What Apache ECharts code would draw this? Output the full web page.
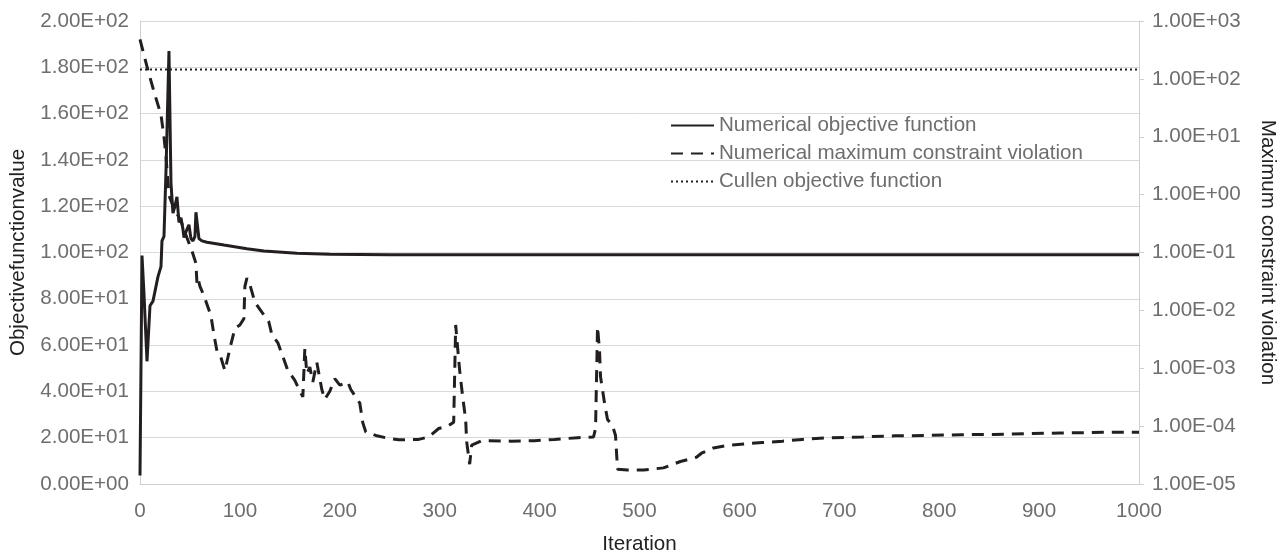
<!DOCTYPE html>
<html>
<head>
<meta charset="utf-8">
<script src="https://cdn.jsdelivr.net/npm/echarts@6/dist/echarts.min.js"></script>
<style>
  html, body { margin: 0; padding: 0; background: #fff; }
  #chart { width: 1286px; height: 560px; }
</style>
</head>
<body>
<div id="chart"></div>
<script>
// objective function (left axis)
var objIter = [0, 2, 4, 7, 10, 13, 18, 21, 22, 24, 26, 29, 31, 33, 35, 37, 39, 41, 43, 44, 47, 49, 51, 53, 55, 56, 59, 62, 67, 84, 107, 124, 157, 190, 250, 400, 600, 800, 1000];
var objVal = [3.7, 98.7, 82, 53, 77, 79, 89.6, 93.9, 105, 107, 135, 187, 130, 117, 120, 124, 113, 115, 110, 106.5, 110, 112, 106, 105, 107, 117.4, 106, 105, 104.4, 103.2, 101.6, 100.6, 99.7, 99.2, 99.0, 99.0, 99.0, 99.0, 99.0];

// maximum constraint violation (right log axis)
var conIter = [0, 8, 14, 21, 24, 26, 28, 29, 34, 41, 47, 52, 56, 57, 58, 60, 64, 71, 74, 77, 80, 85, 90, 95, 100, 104, 105, 107, 110, 115, 122, 129, 132, 138, 143, 148, 155, 158, 163, 165, 167, 170, 173, 177, 182, 185, 190, 195, 200, 208, 211, 220, 223, 226, 236, 246, 259, 279, 289, 299, 309, 314, 316, 318, 320, 323, 326, 327, 330, 332, 342, 371, 395, 415, 438, 454, 456, 458, 460, 461, 465, 468, 473, 476, 478, 488, 504, 524, 541, 557, 562, 574, 590, 623, 643, 663, 690, 723, 756, 789, 822, 855, 888, 921, 964, 1000];
var conVal = [480, 140, 60, 24, 10, 4.6, 1.6, 0.97, 0.58, 0.35, 0.18, 0.107, 0.065, 0.030, 0.036, 0.026, 0.018, 8.1e-3, 3.8e-3, 2.0e-3, 1.74e-3, 9.1e-4, 2.2e-3, 4.9e-3, 5.6e-3, 7.2e-3, 0.026, 0.036, 0.028, 0.0138, 9.3e-3, 6.3e-3, 3.8e-3, 2.75e-3, 1.6e-3, 9.1e-4, 6.2e-4, 4.8e-4, 3.2e-4, 2.2e-3, 8.1e-4, 1.05e-3, 5.8e-4, 1.26e-3, 4.3e-4, 2.9e-4, 4.0e-4, 6.6e-4, 5.1e-4, 5.8e-4, 4.3e-4, 2.5e-4, 1.15e-4, 7.9e-5, 6.9e-5, 6.3e-5, 5.8e-5, 5.9e-5, 6.5e-5, 9.1e-5, 1.02e-4, 1.17e-4, 5.6e-3, 2.2e-3, 9.1e-4, 3.2e-4, 1.3e-4, 5.4e-5, 2.2e-5, 4.7e-5, 5.6e-5, 5.5e-5, 5.6e-5, 5.9e-5, 6.3e-5, 6.5e-5, 9.1e-5, 5.2e-3, 2.0e-3, 7.1e-4, 2.5e-4, 1.3e-4, 1.02e-4, 6.9e-5, 1.8e-5, 1.74e-5, 1.74e-5, 1.9e-5, 2.45e-5, 2.9e-5, 3.4e-5, 4.2e-5, 4.7e-5, 5.2e-5, 5.5e-5, 5.9e-5, 6.3e-5, 6.5e-5, 6.8e-5, 6.9e-5, 7.1e-5, 7.2e-5, 7.4e-5, 7.6e-5, 7.8e-5, 7.8e-5];

// Cullen objective function (constant)
var cullenIter = [0, 1000];
var cullenVal = [179, 179];

var seriesNames = ['Numerical objective function', 'Numerical maximum constraint violation', 'Cullen objective function'];

function pairs(xs, ys) {
    var out = [];
    for (var i = 0; i < xs.length; i++) out.push([xs[i], ys[i]]);
    return out;
}

// Excel-like scientific label, e.g. 1.00E-05
function sci(v) {
    if (v === 0) return '0.00E+00';
    var e = Math.floor(Math.log10(Math.abs(v)) + 1e-9);
    var m = v / Math.pow(10, e);
    var ae = Math.abs(e);
    return m.toFixed(2) + 'E' + (e < 0 ? '-' : '+') + (ae < 10 ? '0' + ae : ae);
}

var font = "'Liberation Sans', Arial, sans-serif";
var fs = 20.6;
var labelColor = '#6e6e6e';
var lineColor = '#231f20';

var myChart = echarts.init(document.getElementById('chart'));
var option = {
    animation: false,
    textStyle: { fontFamily: font },
    grid: { left: 139, right: 140, top: 21, bottom: 63, containLabel: false },
    legend: {
        orient: 'vertical',
        left: 665,
        top: 110,
        itemWidth: 43,
        itemHeight: 14,
        itemGap: 7,
        data: seriesNames,
        itemStyle: { opacity: 0 },
        textStyle: { color: labelColor, fontSize: fs, fontFamily: font }
    },
    xAxis: {
        type: 'value',
        min: 0,
        max: 1000,
        interval: 100,
        name: 'Iteration',
        nameLocation: 'middle',
        nameGap: 50,
        nameTextStyle: { color: '#222', fontSize: fs, fontFamily: font },
        axisLine: { lineStyle: { color: '#d0d0d0', width: 1 } },
        axisTick: { show: false },
        axisLabel: {
            color: labelColor, fontSize: fs, margin: 17, fontFamily: font,
            formatter: function (v) { return String(v); }
        },
        splitLine: { show: false }
    },
    yAxis: [
        {
            type: 'value',
            min: 0,
            max: 200,
            interval: 20,
            name: 'Objectivefunctionvalue',
            nameLocation: 'middle',
            nameGap: 111,
            nameTextStyle: { color: '#222', fontSize: fs, fontFamily: font },
            axisLine: { show: true, lineStyle: { color: '#d0d0d0', width: 1 } },
            axisTick: { show: false },
            axisLabel: { color: labelColor, fontSize: fs, margin: 11, formatter: sci, fontFamily: font },
            splitLine: { lineStyle: { color: '#d9d9d9', width: 1 } }
        },
        {
            type: 'log',
            logBase: 10,
            min: 1e-5,
            max: 1e3,
            splitNumber: 8,
            position: 'right',
            name: 'Maximum constraint violation',
            nameLocation: 'middle',
            nameGap: 118,
            nameRotate: -90,
            nameTextStyle: { color: '#222', fontSize: fs, fontFamily: font },
            axisLine: { show: true, lineStyle: { color: '#d0d0d0', width: 1 } },
            axisTick: { show: true, length: 5, lineStyle: { color: '#d0d0d0' } },
            axisLabel: { color: labelColor, fontSize: fs, margin: 13, formatter: sci, fontFamily: font },
            splitLine: { show: false }
        }
    ],
    series: [
        {
            name: seriesNames[0],
            type: 'line',
            yAxisIndex: 0,
            symbol: 'none',
            data: pairs(objIter, objVal),
            lineStyle: { color: lineColor, width: 3 },
            itemStyle: { color: lineColor },
            z: 3
        },
        {
            name: seriesNames[1],
            type: 'line',
            yAxisIndex: 1,
            symbol: 'none',
            data: pairs(conIter, conVal),
            lineStyle: { color: lineColor, width: 3, type: [12, 8] },
            itemStyle: { color: lineColor },
            z: 2
        },
        {
            name: seriesNames[2],
            type: 'line',
            yAxisIndex: 0,
            symbol: 'none',
            data: pairs(cullenIter, cullenVal),
            lineStyle: { color: lineColor, width: 2, type: [2, 3] },
            itemStyle: { color: lineColor },
            z: 1
        }
    ]
};

option && myChart.setOption(option);
window.addEventListener('resize', function () {
    myChart.resize();
});
</script>
</body>
</html>
